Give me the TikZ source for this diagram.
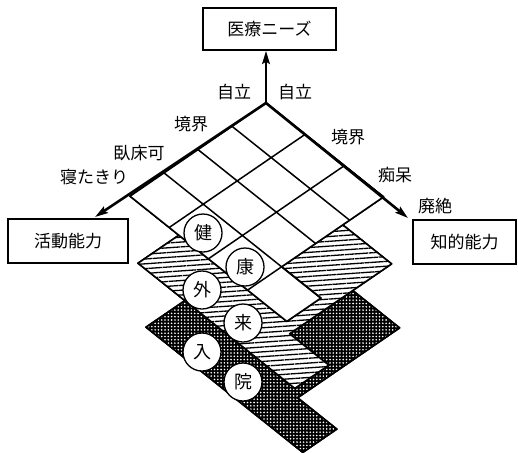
\documentclass[tikz,border=0pt]{standalone}
\usepackage{fontspec}
\newfontfamily\jp{Noto Sans CJK JP}
\usetikzlibrary{arrows.meta,patterns.meta}
\tikzset{
  layerpath/.style={insert path={(0,0) -- (0,3) -- (3,3) -- (3,4) -- (4,4) -- (4,0) -- cycle}},
  layeredge/.style={draw, line width=1.6pt, line join=round},
  gridline/.style={line width=1.5pt},
  axisarrow/.style={line width=2.6pt, -{Stealth[length=13pt,width=7.5pt,inset=2pt]}},
  lbl/.style={inner sep=0pt},
  labelbox/.style={draw, line width=1.6pt, inner sep=0pt},
  badge/.style={circle, draw, fill=white, line width=1.3pt, minimum size=38pt, inner sep=0pt, font=\jp\fontsize{18}{20}\selectfont}
}
\begin{document}
\begin{tikzpicture}[x=1pt,y=-1pt, font=\jp\fontsize{17}{20}\selectfont]
\useasboundingbox (0,0) rectangle (518,452);
\begin{scope}[shift={(266,103)}, x={(-34pt,-23.3pt)}, y={(39.2pt,-31.3pt)}]
  \coordinate (O) at (0,0);
  % inpatient layer (cross-hatched)
  \begin{scope}[shift={(16pt,-131pt)}]
    \path[layerpath, fill=white, layeredge, shift={(0pt,-3pt)}];
    \path[layerpath, fill=black];
    \path[layerpath, pattern={Dots[distance=3.3pt,radius=0.9pt]}, pattern color=white];
    \path[layerpath, layeredge];
  \end{scope}
  % outpatient layer (hatched)
  \begin{scope}[shift={(8pt,-67pt)}]
    \path[layerpath, fill=white, layeredge, shift={(0pt,-3pt)}];
    \path[layerpath, fill=white];
    \path[layerpath, pattern={Lines[angle=4,distance=4.8pt,line width=1.3pt]}, pattern color=black];
    \path[layerpath, layeredge];
  \end{scope}
  % healthy layer (white grid)
  \path[layerpath, fill=white, layeredge, shift={(0pt,-3pt)}];
  \path[layerpath, fill=white, layeredge];
  \draw[gridline] (1,0) -- (1,3) (2,0) -- (2,3) (3,0) -- (3,4)
                  (0,1) -- (4,1) (0,2) -- (4,2) (3,3) -- (4,3);
\end{scope}

% boxes
\node[labelbox, minimum width=133pt, minimum height=42pt] (needs) at (269.5,29) {医療ニーズ};
\node[labelbox, minimum width=120pt, minimum height=44pt] (act) at (68,241) {活動能力};
\node[labelbox, minimum width=103pt, minimum height=44pt] (intel) at (464.5,242) {知的能力};

% axes
\coordinate (ltip) at (95,217);
\coordinate (rtip) at (408,218);
\draw[axisarrow] (O) -- (O |- needs.south);
\draw[axisarrow] (O) -- (ltip);
\draw[axisarrow] (O) -- (rtip);

% badges
\node[badge] (b1) at (203,233) {健};
\node[badge] (b2) at (245,267) {康};
\node[badge] (b3) at (202,290) {外};
\node[badge] (b4) at (243,323) {来};
\node[badge] (b5) at (202,352) {入};
\node[badge] (b6) at (243,382) {院};

% axis labels
\node[lbl] (zl) at (234,92) {自立};
\node[lbl] (zr) at (295,92) {自立};
\node[lbl] (l1) at (191,124) {境界};
\node[lbl] (l2) at (139,153) {臥床可};
\node[lbl] (l3) at (94,177) {寝たきり};
\node[lbl] (r1) at (348,137) {境界};
\node[lbl] (r2) at (395,175) {痴呆};
\node[lbl] (r3) at (435,206) {廃絶};
\end{tikzpicture}
\end{document}
